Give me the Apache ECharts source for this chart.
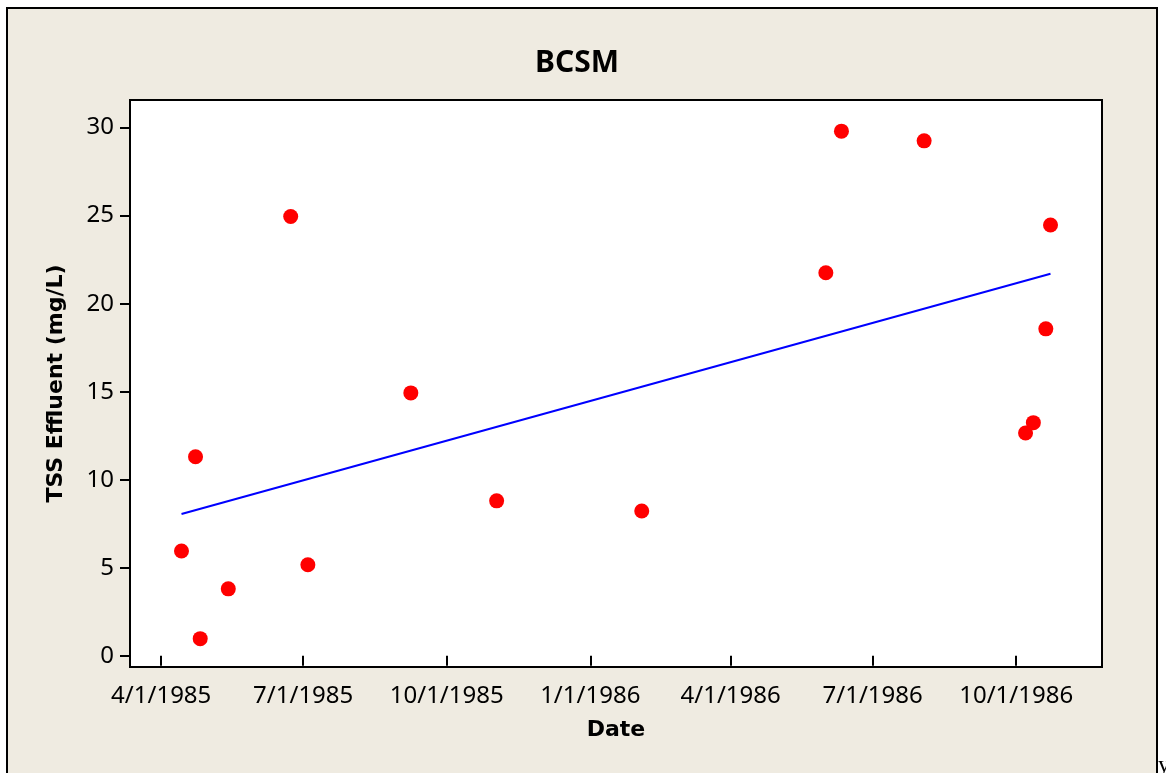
<!DOCTYPE html>
<html>
<head>
<meta charset="utf-8">
<title>BCSM</title>
<script src="https://cdn.jsdelivr.net/npm/echarts@6/dist/echarts.min.js"></script>
<style>
  html, body { margin: 0; padding: 0; background: #fff; }
  #wrap { position: relative; width: 1166px; height: 773px; overflow: hidden; background: #fff; }
  #frame { position: absolute; left: 6px; top: 7px; width: 1148px; height: 800px;
           background: #efebe1; border: 2px solid #000; }
  #main { position: absolute; left: 0; top: 0; width: 1166px; height: 773px; }
</style>
</head>
<body>
<div id="wrap">
  <div id="frame"></div>
  <div id="main"></div>
</div>
<script>
// sample dates and TSS effluent values
const sampleDates = [
  '1985-04-14', '1985-04-23', '1985-04-26', '1985-05-14', '1985-06-23',
  '1985-07-04', '1985-09-08', '1985-11-02', '1986-02-03', '1986-06-01',
  '1986-06-11', '1986-08-03', '1986-10-07', '1986-10-12', '1986-10-20',
  '1986-10-23'
];
const tssValues = [
  5.95, 11.3, 0.97, 3.8, 24.95,
  5.17, 14.93, 8.8, 8.22, 21.76,
  29.8, 29.25, 12.65, 13.24, 18.57,
  24.47
];
// fitted line end points
const trendDates = ['1985-04-14', '1986-10-23'];
const trendValues = [8.05, 21.7];

// axis ticks
const dateTicks = ['1985-04-01', '1985-07-01', '1985-10-01', '1986-01-01', '1986-04-01', '1986-07-01', '1986-10-01'];
const yTicks = [0, 5, 10, 15, 20, 25, 30];

function toTime(s) {
  const p = s.split('-');
  return Date.UTC(+p[0], +p[1] - 1, +p[2]);
}
function fmtDate(v) {
  const d = new Date(v);
  return (d.getUTCMonth() + 1) + '/' + d.getUTCDate() + '/' + d.getUTCFullYear();
}

const chart = echarts.init(document.getElementById('main'));

const option = {
  backgroundColor: 'transparent',
  animation: false,
  textStyle: { fontFamily: 'Noto Sans' },
  grid: {
    left: 130, top: 100, right: 64, bottom: 106,
    show: true, backgroundColor: '#fff', borderColor: '#000', borderWidth: 2
  },
  graphic: [
    {
      type: 'text', left: 535, top: 48,
      style: { text: 'BCSM', fontFamily: 'Noto Sans', fontWeight: 'bold', fontSize: 30, fill: '#000' }
    },
    {
      type: 'text', left: 1158, top: 754,
      style: { text: 'y', fontFamily: 'Liberation Serif', fontSize: 24, fill: '#000' }
    }
  ],
  xAxis: {
    type: 'value',
    min: toTime('1985-03-12'),
    max: toTime('1986-11-25'),
    name: 'Date',
    nameLocation: 'middle',
    nameGap: 52,
    nameTextStyle: { fontFamily: 'DejaVu Sans', fontWeight: 'bold', fontSize: 22, color: '#000' },
    axisLine: { show: false },
    axisTick: {
      show: true, length: 10, lineStyle: { color: '#000', width: 2 },
      customValues: dateTicks.map(toTime)
    },
    axisLabel: {
      customValues: dateTicks.map(toTime),
      formatter: fmtDate,
      fontSize: 24, color: '#000', margin: 17
    },
    splitLine: { show: false }
  },
  yAxis: {
    type: 'value',
    min: -0.64,
    max: 31.57,
    name: 'TSS Effluent (mg/L)',
    nameLocation: 'middle',
    nameGap: 63,
    nameTextStyle: { fontFamily: 'DejaVu Sans', fontWeight: 'bold', fontSize: 22, color: '#000' },
    axisLine: { show: false },
    axisTick: {
      show: true, length: 10, lineStyle: { color: '#000', width: 2 },
      customValues: yTicks
    },
    axisLabel: {
      customValues: yTicks,
      fontSize: 24, color: '#000', margin: 16
    },
    splitLine: { show: false }
  },
  series: [
    {
      type: 'line',
      data: trendDates.map((d, i) => [toTime(d), trendValues[i]]),
      symbol: 'none',
      lineStyle: { color: '#0000ff', width: 2 },
      z: 2
    },
    {
      type: 'scatter',
      data: sampleDates.map((d, i) => [toTime(d), tssValues[i]]),
      symbol: 'circle',
      symbolSize: 15,
      itemStyle: { color: '#ff0000', opacity: 1 },
      z: 3
    }
  ]
};

chart.setOption(option);
</script>
</body>
</html>
